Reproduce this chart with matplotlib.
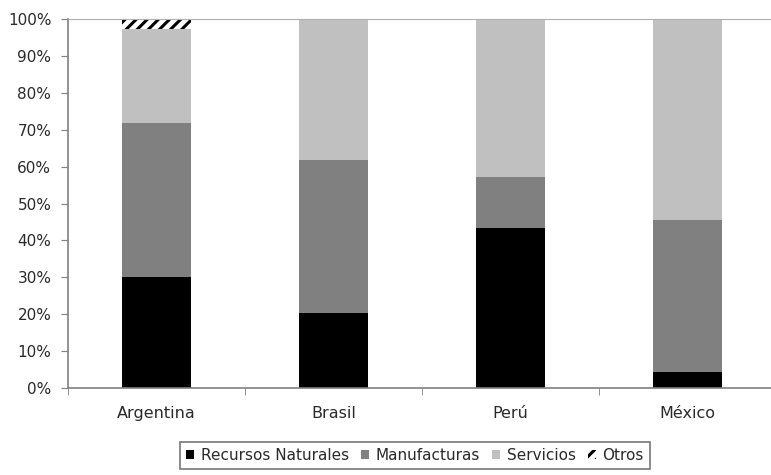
import matplotlib
matplotlib.use("Agg")
import matplotlib.pyplot as plt
import numpy as np
from matplotlib.ticker import PercentFormatter

paises = ["Argentina", "Brasil", "Perú", "México"]
recursos = [30.0, 20.3, 43.4, 4.3]
manufacturas = [41.8, 41.5, 13.8, 41.2]
servicios = [25.4, 38.2, 42.8, 54.5]
otros = [2.8, 0.0, 0.0, 0.0]

plt.rcParams["font.family"] = "DejaVu Sans"
plt.rcParams["hatch.linewidth"] = 2.2
plt.rcParams["hatch.color"] = "black"

fig = plt.figure(figsize=(7.71, 4.75), dpi=100)
ax = fig.add_axes([68/771, 87/475, 708/771, 369/475])

x = np.arange(len(paises))
w = 0.39
b1 = ax.bar(x, recursos, w, color="black", label="Recursos Naturales")
bottom = np.array(recursos)
b2 = ax.bar(x, manufacturas, w, bottom=bottom, color="#808080", label="Manufacturas")
bottom = bottom + np.array(manufacturas)
b3 = ax.bar(x, servicios, w, bottom=bottom, color="#c0c0c0", label="Servicios")
bottom = bottom + np.array(servicios)
b4 = ax.bar(x, otros, w, bottom=bottom, color="white", hatch="///",
            edgecolor="black", linewidth=0, label="Otros")

ax.set_xlim(-0.5, 3.5)
ax.set_ylim(0, 100)
ax.set_yticks(np.arange(0, 101, 10))
ax.yaxis.set_major_formatter(PercentFormatter(decimals=0))
ax.set_xticks(x)
ax.set_xticklabels(paises)
ax.set_xticks(np.arange(-0.5, 4, 1), minor=True)
ax.tick_params(axis="x", which="major", length=0, pad=13, labelsize=11.5, labelcolor="#2a2a2a")
ax.tick_params(axis="x", which="minor", length=5, color="#808080", direction="out")
ax.tick_params(axis="y", length=5, color="#808080", labelsize=11, labelcolor="#2a2a2a", pad=7)

for s in ["left", "bottom"]:
    ax.spines[s].set_color("#808080")
    ax.spines[s].set_linewidth(1.2)
ax.spines["top"].set_color("#b0b0b0")
ax.spines["right"].set_visible(False)

leg = fig.legend(handles=[b1, b2, b3, b4], loc="upper center",
                 bbox_to_anchor=(415/771, 1 - 442/475), ncol=4, fontsize=11,
                 frameon=True, fancybox=False, edgecolor="#555555",
                 handlelength=0.5, handleheight=0.5, handletextpad=0.45,
                 columnspacing=0.8, borderpad=0.4, borderaxespad=0)
leg.get_frame().set_linewidth(1.2)
for t in leg.get_texts():
    t.set_color("#2a2a2a")

fig.savefig("out.png", dpi=100)
